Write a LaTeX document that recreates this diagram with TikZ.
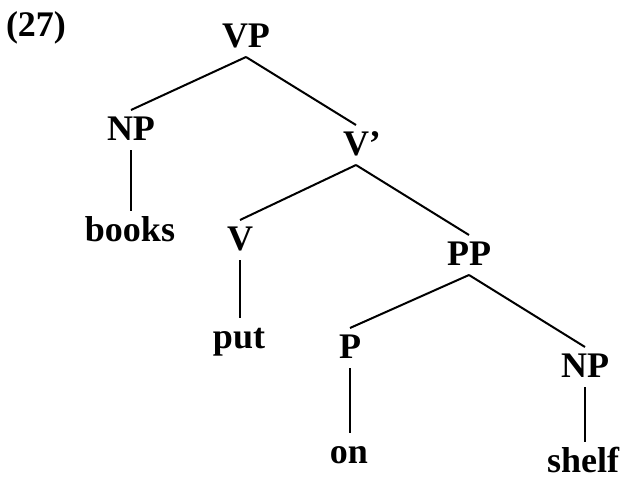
\documentclass[tikz,border=0pt]{standalone}
\usepackage{fontspec}
\setmainfont{Liberation Serif}
\begin{document}
\begin{tikzpicture}[x=1pt,y=-1pt,
  lbl/.style={anchor=base,inner sep=0pt,outer sep=0pt,text height=30pt,text depth=10pt,
    font=\bfseries\fontsize{36}{40}\selectfont},
  leaf/.style={lbl,text depth=3pt},
  edge/.style={line width=2pt}]
\useasboundingbox (0,0) rectangle (624,480);
\fill[white] (0,0) rectangle (624,480);
\node[lbl] (ex) at (36,36) {(27)};
\node[lbl] (VP) at (246,47) {VP};
\node[lbl] (NP1) at (131,140) {NP};
\node[lbl] (Vb) at (356,155) {V\rlap{’}};
\node[leaf] (books) at (130,241) {books};
\node[lbl] (V) at (240,250) {V};
\node[lbl] (PP) at (469,265) {PP};
\node[leaf] (put) at (239,348) {put};
\node[lbl] (P) at (350,358) {P};
\node[lbl] (NP2) at (585,377) {NP};
\node[leaf] (on) at (349,463) {on};
\node[leaf] (shelf) at (583,472) {shelf};
\draw[edge] (VP.south) -- (NP1.north);
\draw[edge] (VP.south) -- (Vb.north);
\draw[edge] (NP1.south) -- (NP1.south |- books.north);
\draw[edge] (Vb.south) -- (V.north);
\draw[edge] (Vb.south) -- (PP.north);
\draw[edge] (V.south) -- (V.south |- put.north);
\draw[edge] (PP.south) -- (P.north);
\draw[edge] (PP.south) -- (NP2.north);
\draw[edge] (P.south) -- (P.south |- on.north);
\draw[edge] (NP2.south) -- (NP2.south |- shelf.north);
\end{tikzpicture}
\end{document}
